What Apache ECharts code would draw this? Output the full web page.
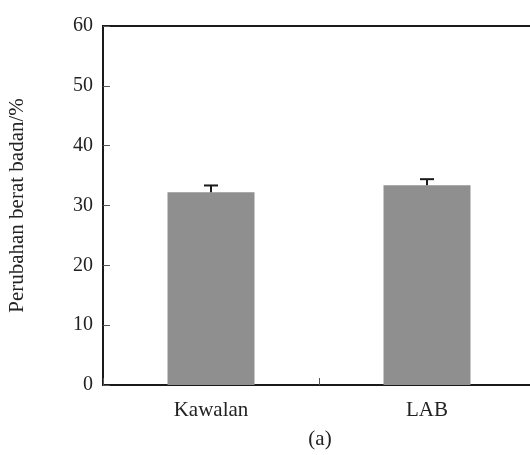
<!DOCTYPE html>
<html><head><meta charset="utf-8">
<script src="https://cdn.jsdelivr.net/npm/echarts@6/dist/echarts.min.js"></script>
<style>html,body{margin:0;padding:0;background:#fff}#c{width:530px;height:455px}</style>
</head><body><div id="c"></div>
<script>
const categories = ['Kawalan', 'LAB'];
const values = [32.2, 33.4];
const errors = [1.15, 1.0];
const yTicks = [0, 10, 20, 30, 40, 50, 60];
const yAxisName = 'Perubahan berat badan/%';
const caption = '(a)';

const font = 'Liberation Serif, Times New Roman, serif';
const chart = echarts.init(document.getElementById('c'));
chart.setOption({
  animation: false,
  backgroundColor: '#fff',
  grid: { left: 103, top: 26, bottom: 70, right: -5, outerBoundsMode: 'none', containLabel: false, show: true, borderColor: '#1a1a1a', borderWidth: 2, backgroundColor: 'transparent' },
  title: { text: caption, left: 315, textAlign: 'center', top: 424, textStyle: { fontFamily: font, fontSize: 21, fontWeight: 'normal', color: '#222' } },
  xAxis: {
    type: 'category', data: categories,
    axisLine: { show: true, lineStyle: { color: '#1a1a1a', width: 2 } },
    axisTick: { show: true, inside: true, length: 7, lineStyle: { color: '#555', width: 1 } },
    axisLabel: { fontFamily: font, fontSize: 21, color: '#222', margin: 15 }
  },
  yAxis: {
    type: 'value', min: yTicks[0], max: yTicks[yTicks.length - 1], interval: 10,
    name: yAxisName, nameLocation: 'middle', nameRotate: 90, nameGap: 75,
    nameTextStyle: { fontFamily: font, fontSize: 21, color: '#222' },
    splitLine: { show: false },
    axisLine: { show: true, lineStyle: { color: '#1a1a1a', width: 2 } },
    axisTick: { show: true, inside: true, length: 7, lineStyle: { color: '#555', width: 1 } },
    axisLabel: { fontFamily: font, fontSize: 20, color: '#222', margin: 10 }
  },
  series: [
    { type: 'bar', data: values, barWidth: 87, itemStyle: { color: '#8f8f8f' }, z: 2 },
    {
      type: 'custom', z: 3,
      data: values.map((v, i) => [i, v, errors[i]]),
      renderItem: function (params, api) {
        const x = api.value(0), v = api.value(1), e = api.value(2);
        const p0 = api.coord([x, v]);
        const p1 = api.coord([x, v + e]);
        const hw = 7;
        const st = { stroke: '#1a1a1a', lineWidth: 2 };
        return { type: 'group', children: [
          { type: 'line', shape: { x1: p0[0], y1: p0[1], x2: p1[0], y2: p1[1] }, style: st },
          { type: 'line', shape: { x1: p1[0] - hw, y1: p1[1], x2: p1[0] + hw, y2: p1[1] }, style: st }
        ] };
      }
    }
  ]
});
</script></body></html>
